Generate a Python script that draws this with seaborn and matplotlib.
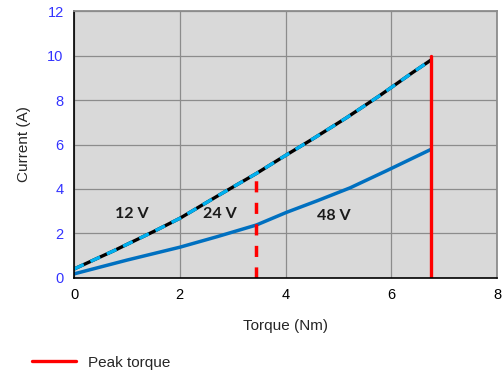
import pandas as pd
import numpy as np
import matplotlib.pyplot as plt
import seaborn as sns

torque_hi = [0, 0.75, 1.5, 2.0, 2.76, 3.45, 3.89, 4.52, 5.15, 5.78, 6.41, 6.75]
current_hi = [0.4, 1.22, 2.08, 2.68, 3.75, 4.7, 5.35, 6.26, 7.2, 8.2, 9.25, 9.8]
torque_48 = [0, 1.0, 2.0, 2.7, 3.45, 4.02, 4.6, 5.22, 5.91, 6.75]
current_48 = [0.18, 0.8, 1.38, 1.85, 2.38, 2.95, 3.47, 4.05, 4.82, 5.78]

peak_24_x = 3.45
peak_24_top = 4.8
peak_x = 6.75
peak_top = 10.0

labels = ["12 V", "24 V", "48 V"]
label_x = [1.09, 2.76, 4.92]
label_y = [2.86, 2.86, 2.8]

df_hi = pd.DataFrame({"Torque": torque_hi, "Current": current_hi})
df_48 = pd.DataFrame({"Torque": torque_48, "Current": current_48})

sns.set_style("white")
plt.rcParams["font.family"] = ["Liberation Sans", "DejaVu Sans"]

fig = plt.figure(figsize=(5.04, 3.74), dpi=100)
ax = fig.add_axes([0.147, 0.257, 0.839, 0.713])
ax.set_facecolor("#d9d9d9")

sns.lineplot(data=df_48, x="Torque", y="Current", color="#0070c0", lw=2.5, ax=ax)
sns.lineplot(data=df_hi, x="Torque", y="Current", color="black", lw=2.4, ax=ax)
sns.lineplot(data=df_hi, x="Torque", y="Current", color="#00b0f0", lw=2.4, ax=ax)
ax.lines[-1].set_dashes([3.2, 2.2])
ax.lines[-1].set_dash_capstyle("butt")

ax.plot([peak_24_x, peak_24_x], [0, peak_24_top], color="#ff0000", lw=2.5,
        dashes=[3.2, 3.0])
ax.plot([peak_x, peak_x], [0, peak_top], color="#ff0000", lw=2.4, label="Peak torque")

for t, lx, ly in zip(labels, label_x, label_y):
    ax.text(lx, ly, t, ha="center", va="center", fontsize=11.5, fontweight="bold",
            family=["Lato", "DejaVu Sans"], color="#1a1a1a")

ax.set_xlim(0, 8)
ax.set_ylim(0, 12)
ax.set_xticks(range(0, 9, 2))
ax.set_yticks(range(0, 13, 2))
ax.grid(True, color="#8c8c8c", lw=0.9)
ax.set_axisbelow(True)
ax.tick_params(axis="y", colors="#3333ff", labelsize=10.5, length=4, width=0.8, color="black")
ax.tick_params(axis="x", labelcolor="black", labelsize=10.5, length=4, width=0.8, color="black")
for s in ["top", "right"]:
    ax.spines[s].set_color("#8c8c8c")
    ax.spines[s].set_linewidth(1.3)
for s in ["left", "bottom"]:
    ax.spines[s].set_color("black")
    ax.spines[s].set_linewidth(1.2)

ax.set_xlabel("Torque (Nm)", fontsize=11, labelpad=12)
ax.set_ylabel("Current (A)", fontsize=11, labelpad=12)

handles = [ax.lines[-1]]
fig.legend(handles, ["Peak torque"], loc="center left", bbox_to_anchor=(0.0635, 0.03),
           frameon=False, fontsize=11, handlelength=2.9, handletextpad=0.75,
           borderpad=0, borderaxespad=0)

fig.savefig("out.png", dpi=100)
